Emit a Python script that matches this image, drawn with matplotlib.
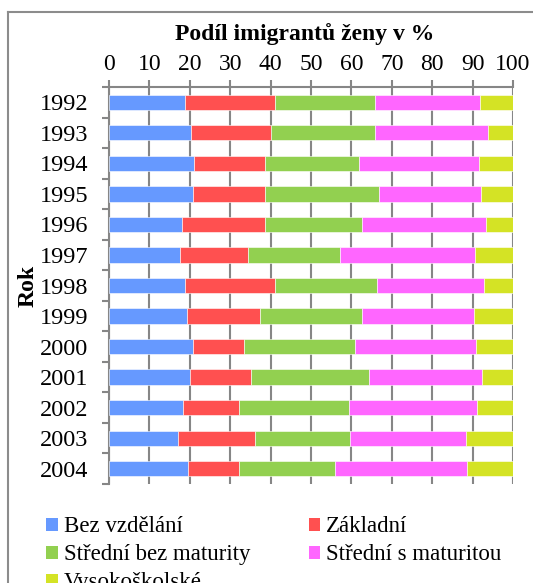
import matplotlib
matplotlib.use("Agg")
import matplotlib.pyplot as plt
import numpy as np
from matplotlib.lines import Line2D
from matplotlib.patches import Patch

plt.rcParams['font.family'] = ['Liberation Serif', 'DejaVu Serif']

years = ['1992', '1993', '1994', '1995', '1996', '1997', '1998',
         '1999', '2000', '2001', '2002', '2003', '2004']
series_names = ['Bez vzdělání', 'Základní', 'Střední bez maturity',
                'Střední s maturitou', 'Vysokoškolské']
bez = [18.9, 20.4, 21.0, 20.8, 18.0, 17.5, 18.9, 19.3, 20.8, 20.0, 18.3, 17.0, 19.5]
zakladni = [22.3, 19.6, 17.5, 17.9, 20.5, 16.8, 22.1, 18.0, 12.7, 15.2, 13.9, 19.1, 12.6]
stredni_bez = [24.7, 25.9, 23.3, 28.2, 24.2, 22.8, 25.4, 25.3, 27.5, 29.1, 27.3, 23.5, 23.9]
stredni_s = [26.0, 28.0, 29.8, 25.2, 30.7, 33.6, 26.3, 27.8, 29.9, 28.1, 31.6, 28.8, 32.5]
vysoko = [8.1, 6.1, 8.4, 7.9, 6.6, 9.3, 7.3, 9.6, 9.1, 7.6, 8.9, 11.6, 11.5]
colors = ['#6699FF', '#FF5050', '#92D050', '#FF66FF', '#D4E325']

data = [bez, zakladni, stredni_bez, stredni_s, vysoko]

W, H = 533, 583
fig = plt.figure(figsize=(W / 100, H / 100), dpi=100)
ax = fig.add_axes([109 / W, 1 - 484 / H, (513 - 109) / W, (484 - 87) / H])

y = np.arange(len(years))
left = np.zeros(len(years))
handles = []
for vals, name, c in zip(data, series_names, colors):
    vals = np.array(vals)
    ax.barh(y, vals, left=left, height=0.5, color=c, edgecolor='white',
            linewidth=0.4, zorder=3)
    left += vals
    handles.append(Patch(facecolor=c, edgecolor='none', label=name))

ax.set_ylim(len(years) - 0.5, -0.5)
ax.set_xlim(0, 100)
ax.set_xticks(np.arange(0, 101, 10))
ax.xaxis.tick_top()
ax.tick_params(axis='x', direction='out', length=5, width=1.5, color='#868686',
               labelsize=17, pad=4)
ax.set_yticks(y)
ax.set_yticklabels(years, fontsize=17.5)
ax.set_yticks(np.arange(-0.5, len(years), 1), minor=True)
ax.tick_params(axis='y', which='major', length=0, pad=15)
ax.tick_params(axis='y', which='minor', direction='out', length=5, width=1.5,
               color='#868686')
ax.grid(axis='x', color='#868686', linewidth=1.5, zorder=0)
ax.set_axisbelow(True)
for s in ['bottom', 'right']:
    ax.spines[s].set_visible(False)
for s in ['top', 'left']:
    ax.spines[s].set_color('#868686')
    ax.spines[s].set_linewidth(1.5)

fig.text(304.5 / W, 1 - 40 / H, 'Podíl imigrantů ženy v %', fontsize=17,
         fontweight='bold', ha='center', va='baseline')
ax.set_ylabel('Rok', fontsize=17, fontweight='bold', labelpad=2)
ax.yaxis.set_label_coords(-0.175, 0.50)

order = [0, 2, 4, 1, 3]
fig.legend([handles[i] for i in order], [series_names[i] for i in order],
           ncol=2, loc='upper left', bbox_to_anchor=(35 / W, 1 - 505 / H),
           frameon=False, fontsize=16.5, handlelength=0.5, handleheight=0.5,
           handletextpad=0.25, columnspacing=2.55, labelspacing=0.3,
           borderpad=0)

# outer chart frame (clipped at right and bottom)
fig.add_artist(Line2D([8 / W, 8 / W], [0, 1 - 12 / H], color='#8c8c8c',
                      linewidth=1.5, transform=fig.transFigure))
fig.add_artist(Line2D([8 / W, 1], [1 - 12 / H, 1 - 12 / H], color='#8c8c8c',
                      linewidth=1.5, transform=fig.transFigure))

fig.savefig('out.png', dpi=100)
